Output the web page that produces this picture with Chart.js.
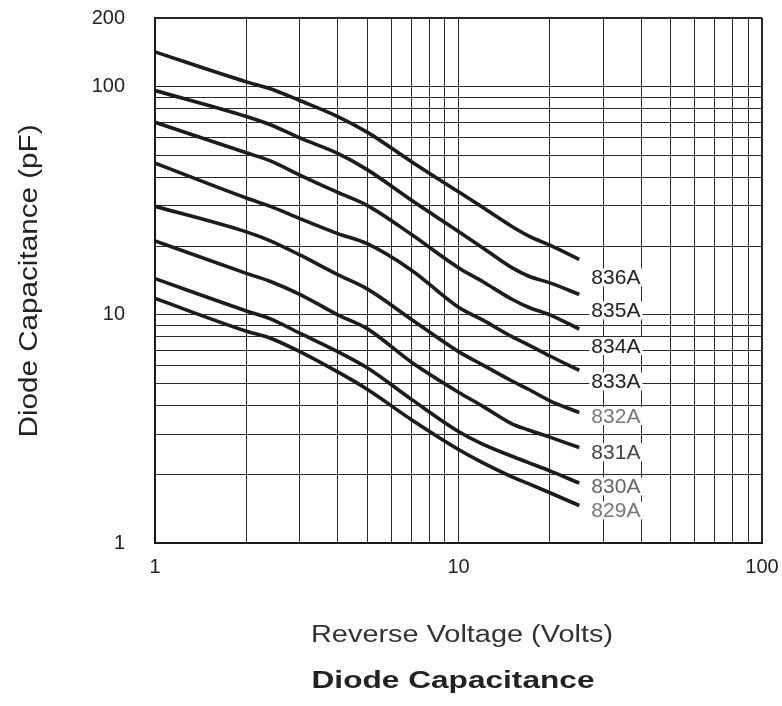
<!DOCTYPE html>
<html>
<head>
<meta charset="utf-8">
<script src="https://cdn.jsdelivr.net/npm/chart.js@4.4.1/dist/chart.umd.min.js"></script>
<style>
  html, body { margin: 0; padding: 0; background: #fff; }
  #wrap { width: 782px; height: 706px; }
</style>
</head>
<body>
<div id="wrap"><canvas id="cap-chart" width="782" height="706"></canvas></div>
<script>
// Reverse voltage (V) where each curve was read
const voltage = [1, 2, 2.4, 3, 4, 5, 7, 10, 12, 15, 17, 20, 25];

// Diode capacitance (pF) per part
const cap836A = [142, 105, 98, 87, 74, 63.2, 46.9, 34.6, 29.6, 24.4, 22.2, 20.2, 17.5];
const cap835A = [96.2, 74, 68.1, 59.6, 51, 43.3, 31.8, 23.2, 19.7, 16.1, 14.8, 13.8, 12.3];
const cap834A = [69.8, 51.3, 47.3, 41, 34.4, 30.2, 22.5, 16.1, 14.0, 11.7, 10.8, 10.0, 8.66];
const cap833A = [46.2, 32.5, 29.9, 26.4, 22.7, 20.5, 15.7, 10.8, 9.5, 8.02, 7.39, 6.6, 5.71];
const cap832A = [29.9, 23.1, 21.1, 18.3, 15.0, 13.0, 9.55, 6.9, 6.04, 5.13, 4.72, 4.2, 3.73];
const cap831A = [21.1, 15.2, 14.0, 12.3, 10.0, 8.7, 6.2, 4.58, 3.98, 3.33, 3.13, 2.91, 2.62];
const cap830A = [14.4, 10.4, 9.6, 8.31, 6.9, 5.86, 4.26, 3.08, 2.71, 2.40, 2.25, 2.07, 1.83];
const cap829A = [11.8, 8.48, 7.9, 6.9, 5.62, 4.72, 3.47, 2.57, 2.25, 1.95, 1.82, 1.66, 1.46];

const partNames = ['836A', '835A', '834A', '833A', '832A', '831A', '830A', '829A'];
const partCaps = [cap836A, cap835A, cap834A, cap833A, cap832A, cap831A, cap830A, cap829A];

// where the part names sit (voltage, capacitance)
const labelVoltage = 33;
const labelCap = [14.6, 10.45, 7.3, 5.1, 3.6, 2.5, 1.77, 1.39];
const labelColors = ['#222', '#222', '#222', '#222', '#777', '#444', '#666', '#777'];

// axis ticks
const xTicks = [1, 2, 3, 4, 5, 6, 7, 8, 9, 10, 20, 30, 40, 50, 60, 70, 80, 90, 100];
const xTickLabels = [1, 10, 100];
const yTicks = [1, 2, 3, 4, 5, 6, 7, 8, 9, 10, 20, 30, 40, 50, 60, 70, 80, 90, 100, 200];
const yTickLabels = [1, 10, 100, 200];

const FONT = '"Liberation Sans", Arial, Helvetica, sans-serif';
Chart.defaults.font.family = FONT;

function drawStretched(ctx, text, font, color, cx, baseY, width, angle) {
    ctx.save();
    ctx.font = font;
    ctx.fillStyle = color;
    ctx.translate(cx, baseY);
    if (angle) ctx.rotate(angle);
    const natural = ctx.measureText(text).width;
    ctx.scale(width / natural, 1);
    ctx.textAlign = 'center';
    ctx.textBaseline = 'alphabetic';
    ctx.fillText(text, 0, 0);
    ctx.restore();
}

const partLabels = {
    id: 'partLabels',
    afterDatasetsDraw(chart) {
        const { ctx, scales: { x, y } } = chart;
        ctx.save();
        ctx.font = '21px ' + FONT;
        ctx.textAlign = 'center';
        ctx.textBaseline = 'middle';
        partNames.forEach((name, i) => {
            const px = x.getPixelForValue(labelVoltage);
            const py = y.getPixelForValue(labelCap[i]);
            const w = ctx.measureText(name).width;
            ctx.fillStyle = '#fff';
            ctx.fillRect(px - w / 2 - 2, py - 9, w + 4, 18);
            ctx.fillStyle = labelColors[i];
            ctx.fillText(name, px, py + 1);
        });
        ctx.restore();
    },
    afterDraw(chart) {
        const ctx = chart.ctx;
        drawStretched(ctx, 'Reverse Voltage (Volts)', '23px ' + FONT, '#333', 462, 642, 302);
        drawStretched(ctx, 'Diode Capacitance', 'bold 23px ' + FONT, '#222', 453, 688, 283);
        drawStretched(ctx, 'Diode Capacitance (pF)', '25px ' + FONT, '#222', 37, 281, 313, -Math.PI / 2);
    }
};

const ctxCap = document.getElementById('cap-chart').getContext('2d');
const capChart = new Chart(ctxCap, {
    type: 'line',
    data: {
        datasets: partNames.map((name, i) => ({
            label: name,
            data: voltage.map((v, j) => ({ x: v, y: partCaps[i][j] })),
            borderColor: '#1c1c1c',
            borderWidth: 3.6,
            pointRadius: 0,
            cubicInterpolationMode: 'monotone',
            fill: false
        }))
    },
    options: {
        responsive: false,
        animation: false,
        layout: { padding: { top: 18, right: 20, left: 0, bottom: 0 } },
        scales: {
            x: {
                type: 'logarithmic',
                min: 1,
                max: 100,
                afterBuildTicks: s => { s.ticks = xTicks.map(v => ({ value: v })); },
                afterFit: s => { s.height = 163; s.paddingLeft = 0; s.paddingRight = 0; },
                ticks: {
                    autoSkip: false,
                    maxRotation: 0,
                    padding: 12,
                    color: '#222',
                    font: { size: 20 },
                    callback: v => xTickLabels.includes(v) ? String(v) : ''
                },
                grid: {
                    drawTicks: false,
                    color: '#2a2a2a',
                    lineWidth: c => (c.tick && c.tick.value === 100) ? 2 : 1
                },
                border: { display: true, color: '#1a1a1a', width: 2 }
            },
            y: {
                type: 'logarithmic',
                min: 1,
                max: 200,
                afterBuildTicks: s => { s.ticks = yTicks.map(v => ({ value: v })); },
                afterFit: s => { s.width = 155; s.paddingTop = 0; s.paddingBottom = 0; },
                ticks: {
                    autoSkip: false,
                    padding: 30,
                    color: '#222',
                    font: { size: 20 },
                    callback: v => yTickLabels.includes(v) ? String(v) : ''
                },
                grid: {
                    drawTicks: false,
                    color: '#2a2a2a',
                    lineWidth: c => (c.tick && c.tick.value === 200) ? 2 : 1
                },
                border: { display: true, color: '#1a1a1a', width: 2 }
            }
        },
        plugins: {
            legend: { display: false },
            tooltip: { enabled: false }
        }
    },
    plugins: [partLabels]
});
</script>
</body>
</html>
